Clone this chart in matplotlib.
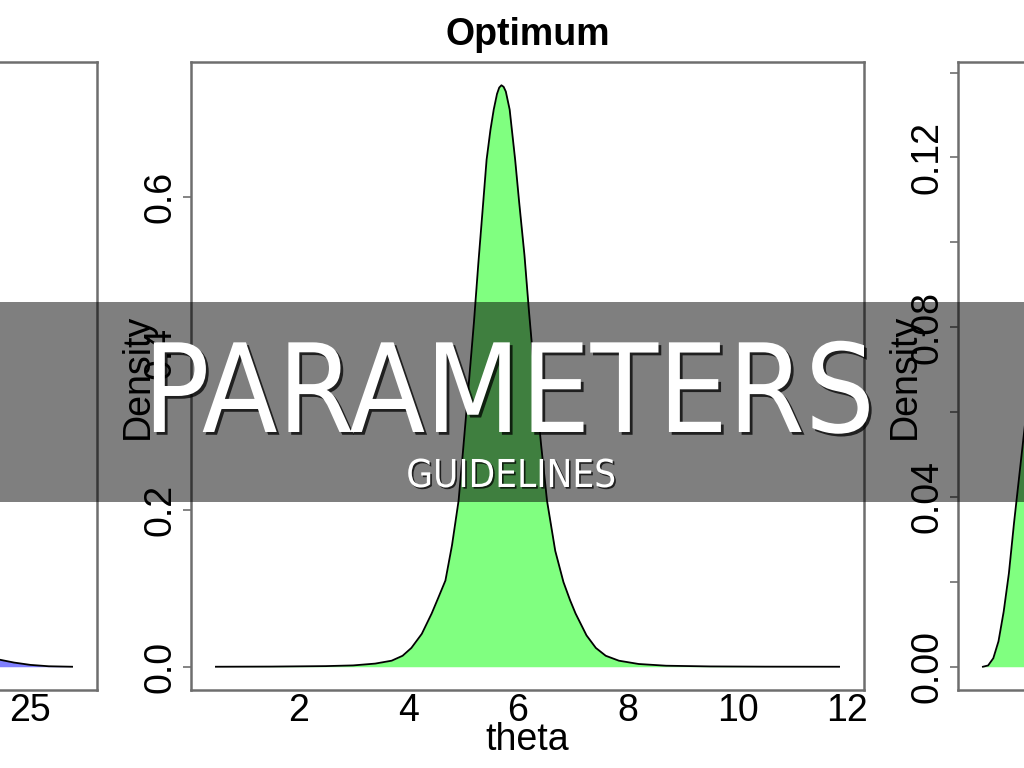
import matplotlib
matplotlib.use("Agg")
import matplotlib.pyplot as plt
from matplotlib import patheffects as pe
from matplotlib.patches import Rectangle
from matplotlib import font_manager as fm
from matplotlib.textpath import TextPath

plt.rcParams['font.family'] = ['Liberation Sans', 'DejaVu Sans']

# ---------------- data ----------------
# left panel (blue), only its right end is visible
theta_left = [0, 1, 2, 3, 4, 5, 6, 7, 8, 9, 10, 11, 12, 13, 14, 15, 16, 17, 18,
              19, 20, 21, 22, 23, 23.7, 24.3, 25, 25.8, 26.8]
dens_left = [0.0, 0.002, 0.01, 0.03, 0.07, 0.13, 0.19, 0.235, 0.25, 0.24, 0.21,
             0.17, 0.13, 0.095, 0.065, 0.043, 0.028, 0.018, 0.012, 0.008, 0.0055,
             0.0045, 0.0038, 0.0033, 0.003, 0.0018, 0.0008, 0.0002, 0.0]

# middle panel "Optimum" (green)
theta_opt = [0.5, 1.5, 2.5, 3.0, 3.4, 3.7, 3.9, 4.06, 4.25, 4.43, 4.55, 4.68, 4.80,
             4.92, 5.00, 5.08, 5.20, 5.28, 5.36, 5.43, 5.50, 5.56, 5.62, 5.66, 5.70,
             5.74, 5.78, 5.85, 5.95, 6.02, 6.12, 6.20, 6.30, 6.42, 6.53, 6.68, 6.83,
             6.95, 7.05, 7.25, 7.42, 7.60, 7.84, 8.2, 8.7, 9.5, 10.5, 11.85]
dens_opt = [0.0, 0.0002, 0.0008, 0.0017, 0.0040, 0.0077, 0.014, 0.024, 0.042, 0.068,
            0.088, 0.110, 0.155, 0.212, 0.275, 0.340, 0.440, 0.515, 0.585, 0.647,
            0.685, 0.711, 0.731, 0.739, 0.742, 0.740, 0.734, 0.711, 0.647, 0.595,
            0.525, 0.455, 0.375, 0.285, 0.212, 0.148, 0.108, 0.085, 0.068, 0.040,
            0.024, 0.014, 0.0077, 0.0035, 0.0013, 0.0004, 0.0001, 0.0]

# right panel (green), only its left end is visible
theta_right = [0, 0.25, 0.5, 0.75, 1.0, 1.25, 1.5, 1.75, 2.0, 2.5, 3, 3.5, 4, 4.5, 5,
               5.5, 6, 7, 8, 9, 10, 12, 14, 16, 18, 20, 22, 25, 30]
dens_right = [0.0, 0.0003, 0.002, 0.006, 0.013, 0.022, 0.034, 0.045, 0.056, 0.078,
              0.098, 0.115, 0.128, 0.135, 0.137, 0.135, 0.129, 0.112, 0.092, 0.073,
              0.056, 0.032, 0.017, 0.009, 0.0045, 0.0022, 0.001, 0.0003, 0.0]

opt_xticks = [2, 4, 6, 8, 10, 12]
opt_yticks = [0.0, 0.2, 0.4, 0.6]
opt_ylabels = ["0.0", "0.2", "0.4", "0.6"]
left_xticks = [5, 10, 15, 20, 25]
right_yticks = [0.00, 0.04, 0.08, 0.12]
right_ylabels = ["0.00", "0.04", "0.08", "0.12"]
right_yminor = [0.02, 0.06, 0.10, 0.14]

title_mid = "Optimum"
banner_title = "PARAMETERS"
banner_sub = "GUIDELINES"

# ---------------- figure ----------------
W, H = 1024, 768
fig = plt.figure(figsize=(W / 100, H / 100), dpi=100)
fig.patch.set_facecolor("white")


def rect(l, r, t, b):
    return [l / W, 1 - b / H, (r - l) / W, (b - t) / H]


def rlim(v, zero=False):
    lo, hi = min(v), max(v)
    if zero:
        lo = min(lo, 0)
    d = 0.04 * (hi - lo)
    return lo - d, hi + d


BOX_T, BOX_B = 62, 690
FS = 27
SPINE = "#6e6e6e"


def panel(l, r, x, y, fill):
    ax = fig.add_axes(rect(l, r, BOX_T, BOX_B))
    ax.fill_between(x, y, 0, color=fill, lw=0, zorder=1)
    ax.plot(x, y, color="black", lw=1.3, zorder=2)
    ax.set_xlim(rlim(x))
    ax.set_ylim(rlim(y, zero=True))
    for s in ax.spines.values():
        s.set_color(SPINE)
        s.set_linewidth(1.8)
    ax.tick_params(axis="x", length=0, pad=2, labelsize=FS)
    ax.tick_params(axis="y", which="both", length=6, width=1.2, color=SPINE,
                   pad=3, labelsize=FS, labelrotation=90)
    ax.text(-53 / (r - l), 0.5, "Density", rotation=90, ha="center", va="center",
            fontsize=FS, transform=ax.transAxes)
    return ax


# left
axL = panel(-576, 97, theta_left, dens_left, "#8080ff")
axL.set_xticks(left_xticks)
axL.set_yticks([0.0, 0.1, 0.2])

# middle
axM = panel(191, 864, theta_opt, dens_opt, "#80ff80")
axM.set_xticks(opt_xticks)
axM.set_yticks(opt_yticks)
axM.set_yticklabels(opt_ylabels)
for lbl in axM.get_yticklabels():
    lbl.set_va("center")
axM.text(0.5, 1 + 17 / 628, title_mid, ha="center", va="baseline",
         fontsize=FS, fontweight="bold", transform=axM.transAxes)
axM.text(0.5, -60 / 628, "theta", ha="center", va="baseline", fontsize=FS,
         transform=axM.transAxes)

# right
axR = panel(958, 1631, theta_right, dens_right, "#80ff80")
axR.set_yticks(right_yticks)
axR.set_yticklabels(right_ylabels)
axR.set_yticks(right_yminor, minor=True)
for lbl in axR.get_yticklabels():
    lbl.set_va("center")
axR.set_xticks([5, 10, 15, 20, 25, 30])

# ---------------- banner ----------------
# pick the installed font whose proportions best match the narrow banner lettering
TARGET_RATIO = 715 / 92.0     # width of "PARAMETERS" / cap height in the reference
candidates = [
    dict(family="Liberation Sans Narrow"),
    dict(family="DejaVu Sans", stretch="condensed"),
    dict(family="Noto Sans CJK SC"),
    dict(family="Roboto"),
    dict(family="Lato"),
    dict(family="Liberation Sans"),
]
best = None
for c in candidates:
    fp = fm.FontProperties(size=100, **c)
    try:
        path = fm.findfont(fp, fallback_to_default=False)
    except Exception:
        continue
    if c.get("stretch") and "ondensed" not in path:
        continue
    if c["family"] == "Liberation Sans Narrow" and "Narrow" not in path:
        continue
    ext_w = TextPath((0, 0), banner_title, prop=fp).get_extents()
    ext_h = TextPath((0, 0), "H", prop=fp).get_extents()
    ratio = ext_w.width / ext_h.height
    score = abs(ratio - TARGET_RATIO)
    if best is None or score < best[0]:
        best = (score, c, ext_w.width, ext_h.height)

_, font_kw, w100, h100 = best
# size (pt) giving the reference width of 715 px (1 pt = 100/72 px here)
size_big = 100 * (715 / w100) * 72 / 100
size_big = min(size_big, 100 * (92 / h100) * 72 / 100 * 1.0 + 1000)
ext_ws = TextPath((0, 0), banner_sub, prop=fm.FontProperties(size=100, **font_kw)).get_extents()
size_small = 100 * (206 / ext_ws.width) * 72 / 100

fig.add_artist(Rectangle((0, 1 - 502 / H), 1, 200 / H, transform=fig.transFigure,
                         facecolor="black", alpha=0.5, lw=0, zorder=10))
fig.text(509 / W, 1 - 432 / H, banner_title, ha="center", va="baseline",
         fontsize=size_big, color="white", zorder=11,
         fontproperties=fm.FontProperties(size=size_big, **font_kw),
         path_effects=[pe.withSimplePatchShadow(offset=(2, -2),
                                                shadow_rgbFace="black", alpha=0.75)])
fig.text(511 / W, 1 - 487 / H, banner_sub, ha="center", va="baseline",
         color="white", zorder=11,
         fontproperties=fm.FontProperties(size=size_small, **font_kw),
         path_effects=[pe.withSimplePatchShadow(offset=(1.2, -1.2),
                                                shadow_rgbFace="black", alpha=0.75)])

fig.savefig("out.png", dpi=100)
